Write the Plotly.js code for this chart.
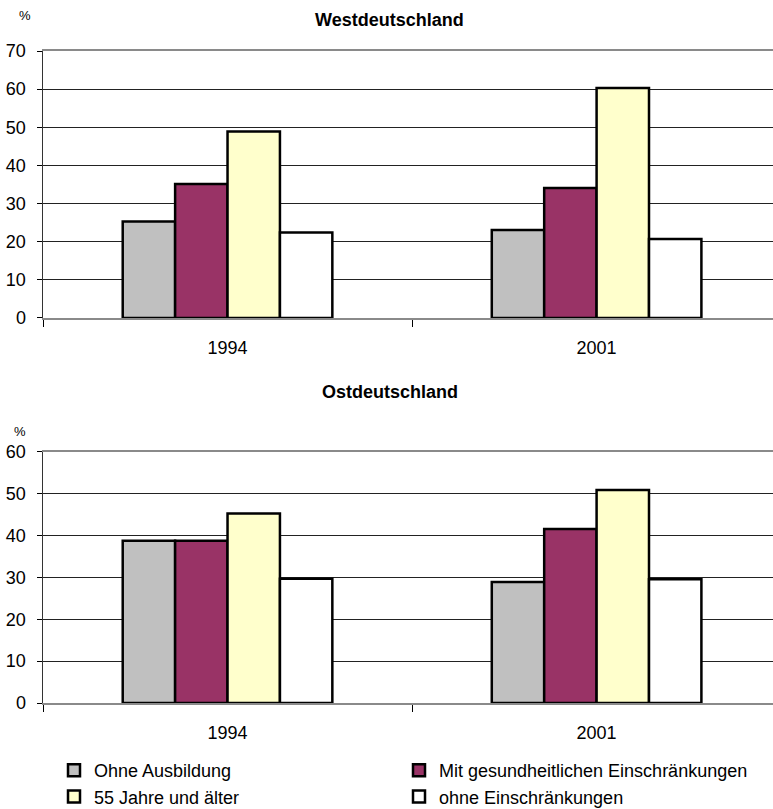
<!DOCTYPE html>
<html>
<head>
<meta charset="utf-8">
<script src="https://cdn.plot.ly/plotly-3.0.1.min.js"></script>
<style>html,body{margin:0;padding:0;background:#fff;}#chart{width:773px;height:809px;}</style>
</head>
<body>
<div id="chart"></div>
<script>
var years = ['1994', '2001'];
var seriesNames = ['Ohne Ausbildung', 'Mit gesundheitlichen Einschränkungen', '55 Jahre und älter', 'ohne Einschränkungen'];
var seriesColors = ['#C0C0C0', '#993366', '#FFFFCC', '#FFFFFF'];
var legendColumn = ['legend', 'legend2', 'legend', 'legend2'];
var westOhneAusbildung = [25.3, 23.1];
var westGesundheit = [35.1, 34.1];
var west55 = [48.9, 60.3];
var westOhneEinschr = [22.4, 20.7];
var ostOhneAusbildung = [38.8, 28.9];
var ostGesundheit = [38.8, 41.6];
var ost55 = [45.3, 50.9];
var ostOhneEinschr = [29.7, 29.6];

var westValues = [westOhneAusbildung, westGesundheit, west55, westOhneEinschr];
var ostValues = [ostOhneAusbildung, ostGesundheit, ost55, ostOhneEinschr];

var FONT = 'Liberation Sans, Arial, Helvetica, sans-serif';
var traces = [];
function addPanel(vals, xa, ya, showLeg) {
  for (var i = 0; i < seriesNames.length; i++) {
    traces.push({
      type: 'bar', x: years, y: vals[i], name: seriesNames[i],
      xaxis: xa, yaxis: ya, showlegend: showLeg, legendgroup: 'g' + i,
      legend: legendColumn[i],
      marker: {color: seriesColors[i], line: {color: '#000', width: 2.5}},
      hoverinfo: 'y'
    });
  }
}
addPanel(westValues, 'x', 'y', true);
addPanel(ostValues, 'x2', 'y2', false);

function xax(anchor) {
  return {
    anchor: anchor, type: 'category', range: [-0.5, 1.478],
    showline: true, mirror: true, linecolor: '#8a8a8a', linewidth: 2,
    ticks: 'outside', tickson: 'boundaries', ticklen: 7, tickcolor: '#000', tickwidth: 1,
    showgrid: false, tickfont: {family: FONT, size: 18, color: '#000'},
    ticklabelstandoff: 12, fixedrange: true, automargin: false
  };
}
function yax(anchor, domain, max) {
  return {
    anchor: anchor, domain: domain, range: [0, max], dtick: 10, tick0: 0,
    showline: true, linecolor: '#333', linewidth: 1.5,
    ticks: 'outside', ticklen: 5, tickcolor: '#000', tickwidth: 1,
    showgrid: true, gridcolor: '#222', gridwidth: 1, zeroline: false,
    tickfont: {family: FONT, size: 18, color: '#000'},
    ticklabelstandoff: 7, fixedrange: true, automargin: false
  };
}
function leg(xpx) {
  return {
    orientation: 'v', xref: 'paper', yref: 'paper',
    x: (xpx - 43) / 730, xanchor: 'left', y: (703 - 752) / 652, yanchor: 'top',
    tracegroupgap: 9,
    font: {family: FONT, size: 18, color: '#000'},
    bgcolor: 'rgba(0,0,0,0)', traceorder: 'normal', itemclick: false, itemdoubleclick: false
  };
}

var layout = {
  width: 773, height: 809,
  margin: {l: 43, r: 0, t: 51, b: 106, autoexpand: false},
  paper_bgcolor: '#fff', plot_bgcolor: '#fff',
  barmode: 'group', bargap: 0.432, bargroupgap: 0,
  xaxis: xax('y'), yaxis: yax('x', [0.5905, 1], 70),
  xaxis2: xax('y2'), yaxis2: yax('x2', [0, 0.385], 60),
  showlegend: true,
  legend: leg(54),
  legend2: leg(399),
  annotations: [
    {text: '<b>Westdeutschland</b>', xref: 'paper', yref: 'paper', x: 0.475, y: 1 + (51 - 20) / 652, xanchor: 'center', yanchor: 'middle', showarrow: false, font: {family: FONT, size: 18, color: '#000'}},
    {text: '<b>Ostdeutschland</b>', xref: 'paper', yref: 'paper', x: 0.475, y: (703 - 392) / 652, xanchor: 'center', yanchor: 'middle', showarrow: false, font: {family: FONT, size: 18, color: '#000'}},
    {text: '%', xref: 'paper', yref: 'paper', x: (25 - 43) / 730, y: (703 - 16) / 652, xanchor: 'center', yanchor: 'middle', showarrow: false, font: {family: FONT, size: 13, color: '#000'}},
    {text: '%', xref: 'paper', yref: 'paper', x: (20 - 43) / 730, y: (703 - 431) / 652, xanchor: 'center', yanchor: 'middle', showarrow: false, font: {family: FONT, size: 13, color: '#000'}}
  ]
};

Plotly.newPlot('chart', traces, layout, {displayModeBar: false, staticPlot: true});
</script>
</body>
</html>
